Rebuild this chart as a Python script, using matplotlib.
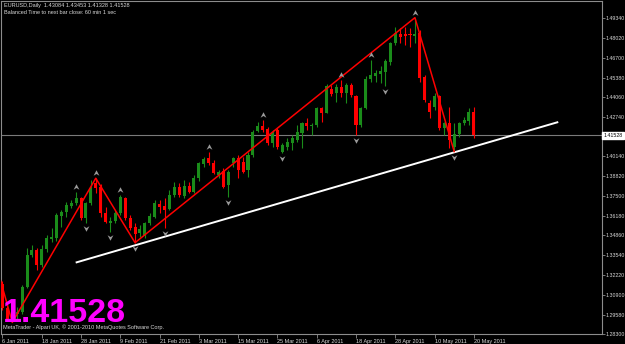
import matplotlib
matplotlib.use("Agg")
import matplotlib.pyplot as plt
import matplotlib.transforms as mtransforms

FONT = ['Liberation Sans', 'DejaVu Sans']

# daily EURUSD bars, 6 Jan 2011 .. 20 May 2011
opens = [1.3160, 1.3000, 1.2925, 1.2960, 1.2975, 1.3143, 1.3355, 1.3388, 1.3288, 1.3393,
         1.3460, 1.3470, 1.3615, 1.3644, 1.3682, 1.3700, 1.3733, 1.3600, 1.3700, 1.3833,
         1.3810, 1.3633, 1.3570, 1.3580, 1.3633, 1.3733, 1.3600, 1.3540, 1.3500, 1.3482,
         1.3566, 1.3610, 1.3695, 1.3682, 1.3660, 1.3755, 1.3807, 1.3749, 1.3815, 1.3777,
         1.3867, 1.3960, 1.4000, 1.3971, 1.3889, 1.3917, 1.3822, 1.3967, 1.4000, 1.3977,
         1.3922, 1.4022, 1.4184, 1.4216, 1.4193, 1.4100, 1.4189, 1.4044, 1.4077, 1.4104,
         1.4122, 1.4167, 1.4238, 1.4216, 1.4222, 1.4334, 1.4304, 1.4460, 1.4434, 1.4478,
         1.4438, 1.4489, 1.4416, 1.4222, 1.4334, 1.4527, 1.4548, 1.4562, 1.4578, 1.4645,
         1.4767, 1.4829, 1.4829, 1.4829, 1.4818, 1.4834, 1.4544, 1.4367, 1.4344, 1.4416,
         1.4200, 1.4238, 1.4073, 1.4162, 1.4238, 1.4251, 1.43084]
highs = [1.3180, 1.3030, 1.2975, 1.3010, 1.3155, 1.3400, 1.3422, 1.3400, 1.3422, 1.3488,
         1.3533, 1.3633, 1.3655, 1.3711, 1.3722, 1.3777, 1.3744, 1.3711, 1.3855, 1.3867,
         1.3830, 1.3677, 1.3610, 1.3655, 1.3755, 1.3744, 1.3622, 1.3566, 1.3555, 1.3577,
         1.3633, 1.3722, 1.3722, 1.3733, 1.3789, 1.3844, 1.3833, 1.3855, 1.3844, 1.3889,
         1.3977, 1.4011, 1.4044, 1.3989, 1.3922, 1.3933, 1.3922, 1.4011, 1.4022, 1.4011,
         1.4044, 1.4189, 1.4244, 1.4256, 1.4211, 1.4189, 1.4200, 1.4100, 1.4133, 1.4156,
         1.4222, 1.4244, 1.4267, 1.4234, 1.4344, 1.4344, 1.4496, 1.4489, 1.4496, 1.4522,
         1.4500, 1.4500, 1.4422, 1.4344, 1.4549, 1.4656, 1.4589, 1.4616, 1.4660, 1.4778,
         1.4878, 1.4867, 1.4878, 1.4867, 1.4938, 1.4856, 1.4556, 1.4389, 1.4434, 1.4422,
         1.4244, 1.4340, 1.4234, 1.4244, 1.4278, 1.4334, 1.43453]
lows = [1.2990, 1.2915, 1.2905, 1.2930, 1.2960, 1.3133, 1.3344, 1.3255, 1.3277, 1.3377,
        1.3444, 1.3450, 1.3544, 1.3610, 1.3666, 1.3689, 1.3588, 1.3570, 1.3689, 1.3767,
        1.3610, 1.3566, 1.3510, 1.3566, 1.3622, 1.3588, 1.3522, 1.3437, 1.3478, 1.3466,
        1.3555, 1.3600, 1.3633, 1.3533, 1.3655, 1.3740, 1.3740, 1.3733, 1.3767, 1.3767,
        1.3850, 1.3944, 1.3955, 1.3895, 1.3867, 1.3800, 1.3744, 1.3944, 1.3867, 1.3900,
        1.3877, 1.4011, 1.4177, 1.4177, 1.4089, 1.4077, 1.4060, 1.4033, 1.4055, 1.4055,
        1.4111, 1.4067, 1.4189, 1.4156, 1.4211, 1.4244, 1.4300, 1.4416, 1.4378, 1.4407,
        1.4367, 1.4411, 1.4156, 1.4211, 1.4327, 1.4511, 1.4511, 1.4500, 1.4480, 1.4622,
        1.4756, 1.4767, 1.4756, 1.4745, 1.4767, 1.4511, 1.4378, 1.4267, 1.4322, 1.4189,
        1.4156, 1.4070, 1.4045, 1.4145, 1.4222, 1.4222, 1.41328]
closes = [1.3000, 1.2925, 1.2965, 1.2975, 1.3143, 1.3355, 1.3388, 1.3288, 1.3393, 1.3466,
          1.3473, 1.3622, 1.3644, 1.3689, 1.3704, 1.3733, 1.3600, 1.3700, 1.3800, 1.3800,
          1.3633, 1.3577, 1.3580, 1.3637, 1.3740, 1.3600, 1.3533, 1.3495, 1.3530, 1.3566,
          1.3615, 1.3700, 1.3677, 1.3655, 1.3755, 1.3811, 1.3755, 1.3815, 1.3777, 1.3867,
          1.3967, 1.3993, 1.3967, 1.3904, 1.3911, 1.3807, 1.3911, 1.4000, 1.3922, 1.3911,
          1.4022, 1.4177, 1.4216, 1.4189, 1.4100, 1.4167, 1.4077, 1.4089, 1.4111, 1.4133,
          1.4177, 1.4234, 1.4216, 1.4222, 1.4334, 1.4300, 1.4482, 1.4429, 1.4478, 1.4438,
          1.4489, 1.4422, 1.4222, 1.4334, 1.4527, 1.4556, 1.4567, 1.4584, 1.4651, 1.4767,
          1.4834, 1.4807, 1.4816, 1.4820, 1.4829, 1.4534, 1.4389, 1.4311, 1.4416, 1.4200,
          1.4238, 1.4122, 1.4162, 1.4238, 1.4256, 1.4311, 1.41528]

date_labels = ['6 Jan 2011', '18 Jan 2011', '28 Jan 2011', '9 Feb 2011', '21 Feb 2011',
               '3 Mar 2011', '15 Mar 2011', '25 Mar 2011', '6 Apr 2011', '18 Apr 2011',
               '28 Apr 2011', '10 May 2011', '20 May 2011']
date_bars = [0, 8, 16, 24, 32, 40, 48, 56, 64, 72, 80, 88, 96]

price_ticks = [1.49340, 1.48020, 1.46700, 1.45380, 1.44060, 1.42740, 1.40140, 1.38820,
               1.37500, 1.36180, 1.34860, 1.33540, 1.32220, 1.30900, 1.29580, 1.28300]

# zigzag vertices (bar, price)
zz_bars = [-3, 2, 19, 27, 84, 92]
zz_prices = [1.3490, 1.2905, 1.3867, 1.3437, 1.4938, 1.4045]

# fractals
fr_up = [15, 19, 24, 42, 53, 69, 75, 84]
fr_down = [17, 22, 27, 33, 46, 57, 72, 78, 92]

# trend line anchors
trend_bars = [15.1, 113.0]
trend_prices = [1.3306, 1.4240]

last_price = 1.41528

BG = 'black'
BULL = '#1a8c1a'
BEAR = '#ff0000'
GRID = '#8c8c8c'
TXT = '#d8d8d8'

fig = plt.figure(figsize=(6.25, 3.44), dpi=100, facecolor=BG)
ax = fig.add_axes([1 / 625, 10.3 / 344, 601 / 625, 332.4 / 344], facecolor=BG)

n = len(opens)
bars = list(range(n))

# candles
for i in bars:
    o, h, l, c = opens[i], highs[i], lows[i], closes[i]
    col = BULL if c >= o else BEAR
    ax.vlines(i, l, h, color=col, linewidth=0.8, zorder=3)
    ax.bar(i, max(abs(c - o), 0.0004), bottom=min(o, c), width=0.62,
           color=col, linewidth=0, zorder=4)

# bid line
ax.axhline(last_price, color='#7a7a7a', linewidth=0.8, zorder=2)

# trend line and zigzag
ax.plot(trend_bars, trend_prices, color='white', linewidth=1.4, zorder=5)
ax.plot(zz_bars, zz_prices, color='#ff0000', linewidth=1.1, zorder=6)

# fractal arrows
up_mark = [(0, 1), (0.9, -0.7), (0, -0.15), (-0.9, -0.7), (0, 1)]
down_mark = [(x, -y) for x, y in up_mark]
off = 0.0034
ax.scatter(fr_up, [highs[i] + off for i in fr_up], marker=up_mark, s=22,
           color='#9a9a9a', linewidths=0, zorder=7)
ax.scatter(fr_down, [lows[i] - off for i in fr_down], marker=down_mark, s=22,
           color='#9a9a9a', linewidths=0, zorder=7)

ax.set_xlim(-0.3, 122.1)
ax.set_ylim(1.2830, 1.5047)

for sp in ax.spines.values():
    sp.set_color(GRID)
    sp.set_linewidth(0.8)

ax.yaxis.tick_right()
ax.set_yticks(price_ticks)
ax.set_yticklabels(['%.5f' % p for p in price_ticks], family=FONT, fontsize=3.8, color=TXT)
ax.tick_params(axis='y', length=2.2, width=0.6, color=GRID, pad=0.6)

ax.set_xticks(date_bars)
ax.set_xticklabels(date_labels, family=FONT, fontsize=4, color=TXT, ha='left')
ax.tick_params(axis='x', length=3, width=0.6, color=GRID, pad=0.8)

# current price box
trans = mtransforms.blended_transform_factory(ax.transAxes, ax.transData)
ax.text(1.002, last_price, '%.5f' % last_price, transform=trans, family=FONT, fontsize=3.8,
        color='black', va='center', ha='left', clip_on=False, zorder=10,
        bbox=dict(boxstyle='square,pad=0.25', fc='white', ec='white'))

# header and footer texts
fig.text(4 / 625, 1 - 6 / 344, 'EURUSD,Daily  1.43084 1.43453 1.41328 1.41528',
         family=FONT, fontsize=4, color=TXT, va='center')
fig.text(4 / 625, 1 - 13 / 344, 'Balanced Time to next bar close: 60 min 1 sec',
         family=FONT, fontsize=4, color=TXT, va='center')
fig.text(2.5 / 625, 1 - 322 / 344, '%.5f' % last_price, family=FONT, fontsize=24.5,
         fontweight='bold', color='#ff00ff', va='baseline', ha='left')
fig.text(3 / 625, 1 - 327 / 344,
         'MetaTrader - Alpari UK, \u00a9 2001-2010 MetaQuotes Software Corp.',
         family=FONT, fontsize=4, color=TXT, va='center')

fig.savefig('out.png', dpi=100, facecolor=BG)
